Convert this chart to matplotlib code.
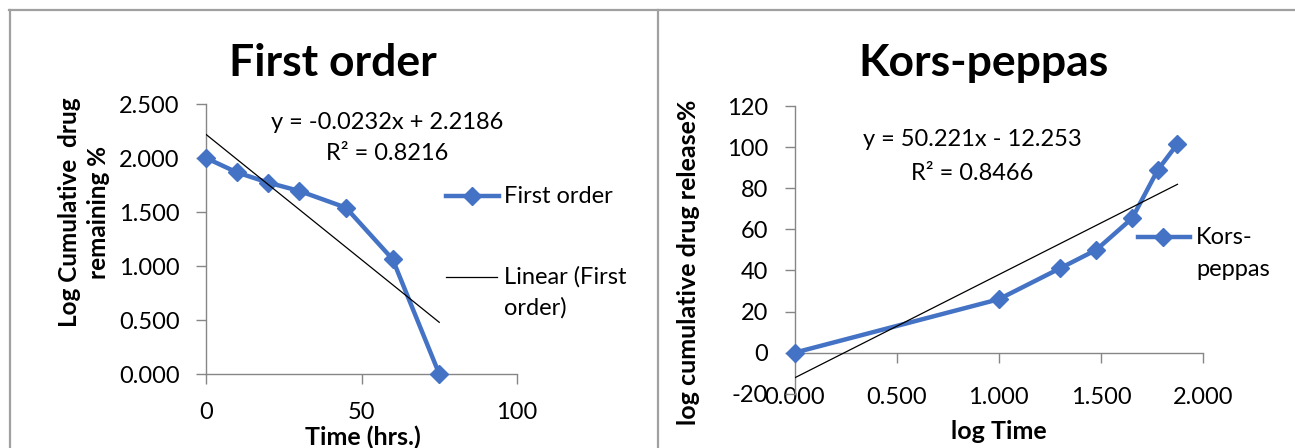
import matplotlib.pyplot as plt
from matplotlib.lines import Line2D
from matplotlib.ticker import FormatStrFormatter
import numpy as np

# first order release: time vs log % drug remaining
time_hrs = [0, 10, 20, 30, 45, 60, 75]
log_remaining = [2.000, 1.866, 1.772, 1.695, 1.540, 1.063, 0.000]
fo_slope, fo_icpt, fo_r2 = -0.0232, 2.2186, 0.8216

# korsmeyer-peppas: log time vs cumulative % release
log_time = [0.000, 1.000, 1.301, 1.477, 1.653, 1.778, 1.875]
cum_release = [0.0, 26.0, 41.1, 50.0, 65.4, 88.8, 101.6]
kp_slope, kp_icpt, kp_r2 = 50.221, -12.253, 0.8466

W, H = 1295, 448
BLUE = '#4472C4'
GREY = '#868686'
FONT = ['Lato', 'DejaVu Sans']
plt.rcParams['font.family'] = FONT
plt.rcParams['axes.unicode_minus'] = False


def fx(x):
    return x / W


def fy(y):
    return 1 - y / H


fig = plt.figure(figsize=(W / 100, H / 100), dpi=100)

# chart frames
frame = dict(color='#a0a0a0', lw=1.6, transform=fig.transFigure)
fig.add_artist(Line2D([fx(9), 1], [fy(10), fy(10)], **frame))
fig.add_artist(Line2D([fx(9.5), fx(9.5)], [fy(10), 0], **frame))
fig.add_artist(Line2D([fx(657.5), fx(657.5)], [fy(10), 0], **frame))


def style_axes(ax):
    for s in ['top', 'right']:
        ax.spines[s].set_visible(False)
    for s in ['left', 'bottom']:
        ax.spines[s].set_color(GREY)
        ax.spines[s].set_linewidth(1.0)
    ax.tick_params(direction='out', length=7, width=1, color=GREY, labelsize=17)


# ---- First order ----
ax1 = fig.add_axes([fx(206), fy(374), fx(517) - fx(206), fy(104) - fy(374)])
style_axes(ax1)
ax1.set_xlim(0, 100)
ax1.set_ylim(0, 2.5)
ax1.set_xticks([0, 50, 100])
ax1.set_yticks(np.arange(0, 2.51, 0.5))
ax1.yaxis.set_major_formatter(FormatStrFormatter('%.3f'))
ax1.tick_params(axis='x', pad=13)
ax1.tick_params(axis='y', pad=12)

ax1.plot(time_hrs, log_remaining, color=BLUE, lw=3.2, marker='D', ms=9.5, clip_on=False, zorder=3)
t_fit = np.array([time_hrs[0], time_hrs[-1]])
ax1.plot(t_fit, fo_slope * t_fit + fo_icpt, color='black', lw=0.9, zorder=4)

ax1.set_ylabel('Log Cumulative  drug\nremaining %', fontsize=17.5, fontweight='bold',
               ha='center', va='center', linespacing=1.3)
ax1.yaxis.set_label_coords((84 - 206) / 311, (374 - 212) / 270)
ax1.set_xlabel('Time (hrs.)', fontsize=18, fontweight='bold', ha='center', va='center')
ax1.xaxis.set_label_coords((363 - 206) / 311, (374 - 437) / 270)

fig.text(fx(333), fy(76), 'First order', fontsize=32, fontweight='bold', ha='center', va='baseline')
fig.text(fx(387), fy(122), f'y = {fo_slope}x + {fo_icpt}', fontsize=17, ha='center', va='center')
fig.text(fx(387), fy(154), f'R² = {fo_r2}', fontsize=17, ha='center', va='center')

# legend drawn by hand so the key sits on the first text line
fig.add_artist(Line2D([fx(446), fx(499)], [fy(196), fy(196)], color=BLUE, lw=3.2,
                      transform=fig.transFigure))
fig.add_artist(Line2D([fx(472)], [fy(196)], color=BLUE, marker='D', ms=9.5,
                      transform=fig.transFigure))
fig.text(fx(504), fy(196), 'First order', fontsize=17, va='center')
fig.add_artist(Line2D([fx(446), fx(497)], [fy(277), fy(277)], color='black', lw=0.9,
                      transform=fig.transFigure))
fig.text(fx(504), fy(277), 'Linear (First', fontsize=17, va='center')
fig.text(fx(504), fy(308), 'order)', fontsize=17, va='center')

# ---- Korsmeyer-Peppas ----
x0, x2 = 794.6, 1203
ytop, ybot = 106, 393.8
ax2 = fig.add_axes([fx(x0), fy(ybot), fx(x2) - fx(x0), fy(ytop) - fy(ybot)])
style_axes(ax2)
ax2.set_xlim(0, 2.0)
ax2.set_ylim(-20, 120)
ax2.set_xticks(np.arange(0, 2.01, 0.5))
ax2.set_yticks(np.arange(-20, 121, 20))
ax2.xaxis.set_major_formatter(FormatStrFormatter('%.3f'))
ax2.spines['bottom'].set_position(('data', 0))
ax2.tick_params(axis='x', pad=18)
ax2.tick_params(axis='y', pad=12)

ax2.plot(log_time, cum_release, color=BLUE, lw=3.2, marker='D', ms=9.5, clip_on=False, zorder=3)
lt_fit = np.array([log_time[0], log_time[-1]])
ax2.plot(lt_fit, kp_slope * lt_fit + kp_icpt, color='black', lw=0.9, zorder=4)

ax2.set_ylabel('log cumulative drug release%', fontsize=18, fontweight='bold',
               ha='center', va='center')
ax2.yaxis.set_label_coords((688 - x0) / (x2 - x0), (ybot - 262) / (ybot - ytop))
ax2.set_xlabel('log Time', fontsize=18, fontweight='bold', ha='center', va='center')
ax2.xaxis.set_label_coords((999 - x0) / (x2 - x0), (ybot - 431) / (ybot - ytop))

fig.text(fx(983), fy(76), 'Kors-peppas', fontsize=32, fontweight='bold', ha='center', va='baseline')
fig.text(fx(972), fy(140), f'y = {kp_slope}x - {abs(kp_icpt)}', fontsize=17, ha='center', va='center')
fig.text(fx(972), fy(173), f'R² = {kp_r2}', fontsize=17, ha='center', va='center')

fig.add_artist(Line2D([fx(1138), fx(1190)], [fy(237), fy(237)], color=BLUE, lw=3.2,
                      transform=fig.transFigure))
fig.add_artist(Line2D([fx(1163)], [fy(237)], color=BLUE, marker='D', ms=9.5,
                      transform=fig.transFigure))
fig.text(fx(1196), fy(237), 'Kors-', fontsize=17, va='center')
fig.text(fx(1196), fy(269), 'peppas', fontsize=17, va='center')

fig.savefig('out.png', dpi=100, facecolor='white')
